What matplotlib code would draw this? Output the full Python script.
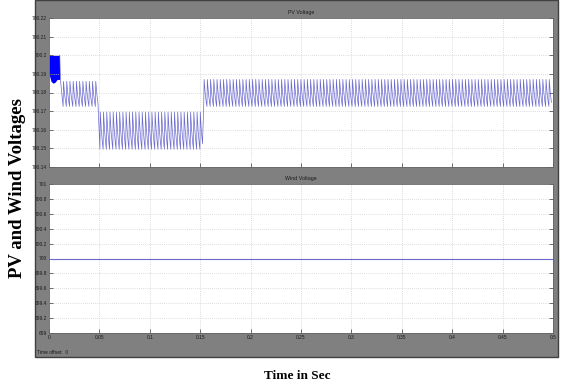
import numpy as np
import matplotlib.pyplot as plt
from matplotlib.patches import Rectangle

# ---- datos ----
pv_block_t = [0.0, 0.002, 0.004, 0.006, 0.008, 0.0105]
pv_block_low = [700.190, 700.186, 700.185, 700.1855, 700.187, 700.187]
pv_block_high = 700.2

# caida despues del bloque
pv_drop_t = [0.0105, 0.0115, 0.014]
pv_drop_v = [700.2, 700.186, 700.1725]

seg_start = [0.014, 0.0505, 0.1535]
seg_end = [0.050, 0.153, 0.5]
seg_low = [700.1725, 700.1495, 700.1725]
seg_high = [700.186, 700.1695, 700.187]
ripple_period = 0.0032
cycle_phase = [0.0, 0.12, 0.45, 0.8]   # posicion dentro de un ciclo
cycle_shape = [0.0, 1.0, 0.5, 0.15]    # valor relativo del ciclo

wind_t = [0.0, 0.5]
wind_v = [700.0, 700.0]

pv_yticks = [700.14, 700.15, 700.16, 700.17, 700.18, 700.19, 700.20, 700.21, 700.22]
wind_yticks = [699.0, 699.2, 699.4, 699.6, 699.8, 700.0, 700.2, 700.4, 700.6, 700.8, 701.0]
xticks = [0, 0.05, 0.1, 0.15, 0.2, 0.25, 0.3, 0.35, 0.4, 0.45, 0.5]

# ---- armar la senal PV con el rizado ----
t_pv = list(pv_drop_t)
v_pv = list(pv_drop_v)
for s, e, lo, hi in zip(seg_start, seg_end, seg_low, seg_high):
    n = int(round((e - s) / ripple_period))
    for k in range(n):
        for f, c in zip(cycle_phase, cycle_shape):
            t_pv.append(s + (k + f) * ripple_period)
            v_pv.append(lo + c * (hi - lo))
t_pv = np.array(t_pv)
v_pv = np.array(v_pv)

# ---- figura ----
fig = plt.figure(figsize=(5.61, 3.85), dpi=100)
fig.patch.set_facecolor('white')

# marco gris del scope
marco = Rectangle((35/561, 1 - 357/385), 523/561, 357/385,
                  transform=fig.transFigure, facecolor='#808080',
                  edgecolor='#404040', lw=1.0, zorder=-5)
fig.add_artist(marco)

tick_font = dict(fontsize=3.5, color='#1a1a1a', family='Liberation Sans')


def estilo(ax, yticks, ylim, titulo):
    ax.set_facecolor('white')
    ax.set_xlim(0, 0.5)
    ax.set_ylim(*ylim)
    ax.set_xticks(xticks)
    ax.set_yticks(yticks)
    ax.set_yticklabels(['%g' % v for v in yticks], **tick_font)
    ax.grid(True, color='#cfcfcf', linestyle=(0, (1, 1.5)), linewidth=0.6)
    ax.tick_params(axis='both', direction='in', length=3, width=0.6,
                   color='#555555', pad=1.5)
    ax.tick_params(axis='y', right=True)
    for sp in ax.spines.values():
        sp.set_color('#666666')
        sp.set_linewidth(0.6)
    ax.set_title(titulo, fontsize=3.8, color='#1a1a1a', pad=3,
                 family='Liberation Sans')


# Subplot 1: PV
ax1 = fig.add_axes([49/561, 1 - 167/385, 504/561, 149/385])
ax1.fill_between(pv_block_t, pv_block_low, pv_block_high, color='#0000ff', lw=0)
ax1.plot(t_pv, v_pv, color='#5050c8', linewidth=0.5, alpha=0.85)
estilo(ax1, pv_yticks, (700.14, 700.22), 'PV Voltage')
ax1.set_xticklabels([])

# Subplot 2: viento
ax2 = fig.add_axes([49/561, 1 - 333/385, 504/561, 149/385])
ax2.plot(wind_t, wind_v, color='#6a6acc', linewidth=0.8)
estilo(ax2, wind_yticks, (699, 701), 'Wind Voltage')
ax2.set_xticklabels(['%g' % v for v in xticks], **tick_font)

fig.text(37/561, 1 - 353/385, 'Time offset:  0', fontsize=3.5, color='#1a1a1a',
         family='Liberation Sans', va='center')

fig.text(297/561, 1 - 376/385, 'Time in Sec', fontsize=9.5, fontweight='bold',
         family='Liberation Serif', ha='center', va='center')
fig.text(18/561, 1 - 188/385, 'PV and Wind Voltages', fontsize=13.5,
         fontweight='bold', family='Liberation Serif', rotation=90,
         ha='center', va='center')

fig.savefig('out.png', dpi=100)
